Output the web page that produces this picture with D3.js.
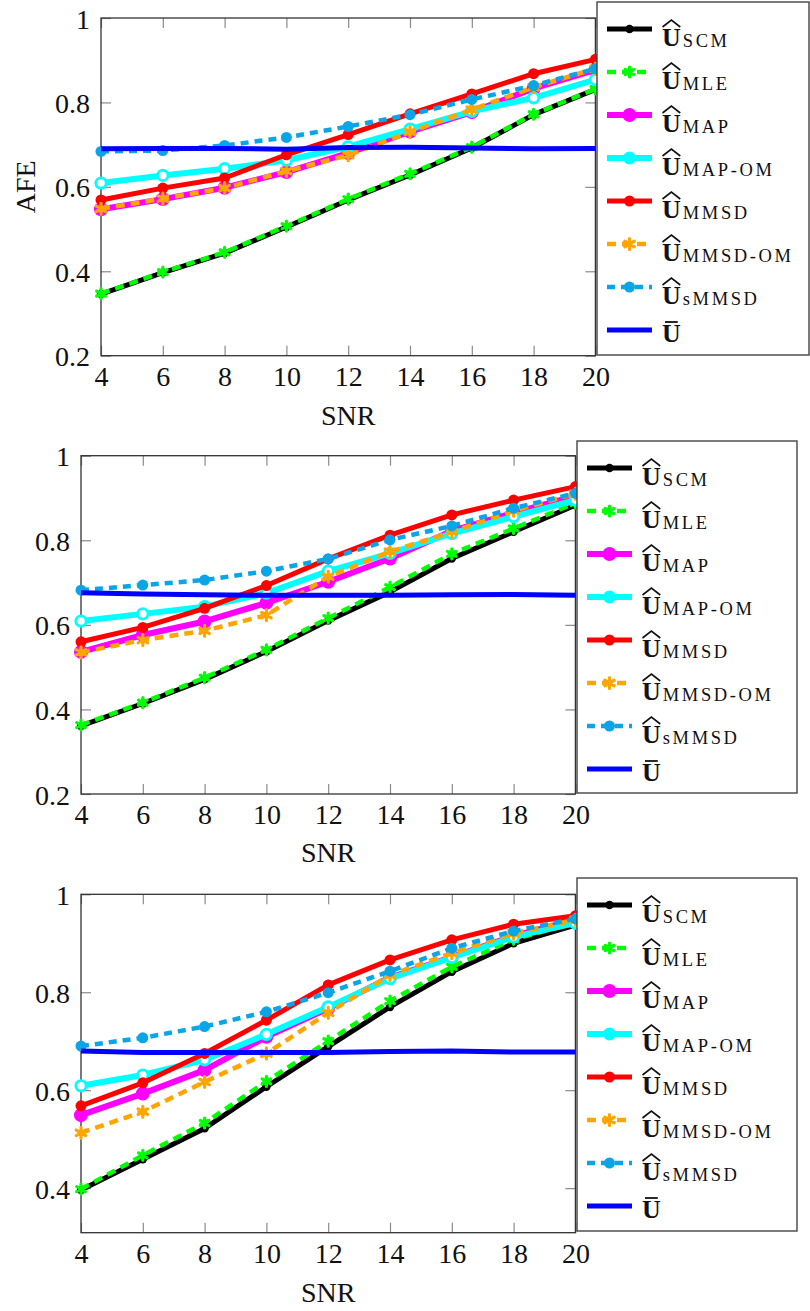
<!DOCTYPE html>
<html>
<head>
<meta charset="utf-8">
<script src="https://cdn.jsdelivr.net/npm/d3@7"></script>
<style>
  body { margin: 0; background: #fff; }
  text { font-family: "Liberation Serif", "Times New Roman", "DejaVu Serif", serif; fill: #111; }
</style>
</head>
<body>
<svg id="chart" width="810" height="1311"></svg>
<script>
// SNR values shared by all three panels
const snr = [4, 6, 8, 10, 12, 14, 16, 18, 20];
const seriesKeys = ['SCM', 'MLE', 'MAP', 'MAP-OM', 'MMSD', 'MMSD-OM', 'sMMSD', 'bar'];

// Panel 1 (top)
const scmA    = [0.346, 0.397, 0.443, 0.505, 0.569, 0.628, 0.692, 0.771, 0.831];
const mleA    = [0.347, 0.398, 0.445, 0.507, 0.571, 0.631, 0.694, 0.772, 0.832];
const mapA    = [0.547, 0.571, 0.598, 0.635, 0.680, 0.731, 0.777, 0.833, 0.877];
const mapOmA  = [0.609, 0.627, 0.643, 0.663, 0.695, 0.737, 0.779, 0.811, 0.854];
const mmsdA   = [0.569, 0.597, 0.621, 0.676, 0.724, 0.773, 0.820, 0.868, 0.902];
const mmsdOmA = [0.548, 0.572, 0.597, 0.637, 0.675, 0.730, 0.783, 0.836, 0.880];
const smmsdA  = [0.684, 0.686, 0.698, 0.717, 0.743, 0.771, 0.807, 0.840, 0.880];
const barA    = [0.690, 0.691, 0.691, 0.689, 0.693, 0.694, 0.692, 0.690, 0.691];

// Panel 2 (middle)
const scmB    = [0.361, 0.414, 0.471, 0.537, 0.610, 0.678, 0.757, 0.820, 0.883];
const mleB    = [0.363, 0.416, 0.475, 0.541, 0.616, 0.689, 0.768, 0.828, 0.888];
const mapB    = [0.536, 0.576, 0.608, 0.652, 0.702, 0.757, 0.822, 0.865, 0.905];
const mapOmB  = [0.609, 0.626, 0.643, 0.675, 0.727, 0.769, 0.816, 0.856, 0.895];
const mmsdB   = [0.560, 0.594, 0.639, 0.693, 0.756, 0.812, 0.860, 0.895, 0.927];
const mmsdOmB = [0.535, 0.564, 0.586, 0.623, 0.714, 0.773, 0.820, 0.870, 0.910];
const smmsdB  = [0.682, 0.694, 0.706, 0.727, 0.756, 0.801, 0.834, 0.876, 0.911];
const barB    = [0.676, 0.673, 0.671, 0.670, 0.670, 0.670, 0.671, 0.672, 0.670];

// Panel 3 (bottom)
const scmC    = [0.396, 0.459, 0.522, 0.607, 0.689, 0.770, 0.842, 0.900, 0.937];
const mleC    = [0.398, 0.467, 0.533, 0.618, 0.700, 0.782, 0.852, 0.908, 0.942];
const mapC    = [0.549, 0.593, 0.641, 0.709, 0.767, 0.830, 0.872, 0.915, 0.948];
const mapOmC  = [0.609, 0.631, 0.662, 0.714, 0.770, 0.828, 0.871, 0.913, 0.941];
const mmsdC   = [0.568, 0.615, 0.675, 0.743, 0.815, 0.866, 0.907, 0.939, 0.956];
const mmsdOmC = [0.513, 0.556, 0.617, 0.675, 0.758, 0.835, 0.880, 0.920, 0.948];
const smmsdC  = [0.690, 0.707, 0.730, 0.760, 0.799, 0.843, 0.890, 0.925, 0.950];
const barC    = [0.680, 0.677, 0.677, 0.677, 0.677, 0.679, 0.680, 0.678, 0.678];

const yTicksFull = [0.2, 0.4, 0.6, 0.8, 1];
const yTicksShort = [0.4, 0.6, 0.8, 1];

const FONT = '"Liberation Serif", "Times New Roman", "DejaVu Serif", serif';

// line / marker styles, same order as seriesKeys
const styles = [
    { color: '#000000', width: 5,   dash: null,  marker: 'dot',  r: 4.2 },
    { color: '#00ff00', width: 4.5, dash: '9,6', marker: 'ast',  r: 5 },
    { color: '#ff00ff', width: 6,   dash: null,  marker: 'dot',  r: 7 },
    { color: '#00ffff', width: 6,   dash: null,  marker: 'ring', r: 6.5 },
    { color: '#ff0000', width: 5,   dash: null,  marker: 'dot',  r: 5.5 },
    { color: '#ffa500', width: 4.5, dash: '9,6', marker: 'ast',  r: 5.5 },
    { color: '#0aa5e6', width: 4.5, dash: '8,6', marker: 'dot',  r: 5.5 },
    { color: '#0000ff', width: 5,   dash: null,  marker: null,   r: 0 }
];

const panels = [
    { left: 101, right: 595.4, top: 18, bottom: 355.7, yMin: 0.2, yTicks: yTicksFull,
      series: [scmA, mleA, mapA, mapOmA, mmsdA, mmsdOmA, smmsdA, barA],
      legend: { x0: 597, x1: 809, y0: 2, y1: 355 }, snrY: 425, afe: true },
    { left: 81, right: 575.4, top: 455.7, bottom: 794, yMin: 0.2, yTicks: yTicksFull,
      series: [scmB, mleB, mapB, mapOmB, mmsdB, mmsdOmB, smmsdB, barB],
      legend: { x0: 577, x1: 797, y0: 441, y1: 793 }, snrY: 861.5, afe: false },
    { left: 81, right: 575.4, top: 894.3, bottom: 1232.7, yMin: 0.309, yTicks: yTicksShort,
      series: [scmC, mleC, mapC, mapOmC, mmsdC, mmsdOmC, smmsdC, barC],
      legend: { x0: 577, x1: 797, y0: 878, y1: 1231 }, snrY: 1301.5, afe: false }
];

const svg = d3.select('#chart');

function drawMarker(g, style, cx, cy) {
    if (!style.marker) return;
    if (style.marker === 'ast') {
        const r = style.r;
        let d = '';
        for (let k = 0; k < 3; k++) {
            const a = Math.PI / 2 + k * Math.PI / 3;
            d += `M${cx - r * Math.cos(a)},${cy - r * Math.sin(a)}L${cx + r * Math.cos(a)},${cy + r * Math.sin(a)}`;
        }
        g.append('path').attr('d', d)
            .attr('stroke', style.color).attr('stroke-width', 3.2)
            .attr('stroke-linecap', 'round').attr('fill', 'none');
        g.append('circle').attr('cx', cx).attr('cy', cy).attr('r', 3)
            .attr('fill', style.color);
    } else if (style.marker === 'ring') {
        g.append('circle').attr('cx', cx).attr('cy', cy).attr('r', style.r - 1.3)
            .attr('fill', '#fff').attr('stroke', style.color).attr('stroke-width', 2.8);
    } else {
        g.append('circle').attr('cx', cx).attr('cy', cy).attr('r', style.r)
            .attr('fill', style.color);
    }
}

function drawLegendLabel(g, key, tx, ly) {
    const isBar = key === 'bar';
    const base = isBar ? ly + 12 : ly + 16.5;
    const u = g.append('text')
        .attr('x', tx).attr('y', base)
        .attr('font-family', FONT)
        .attr('font-size', 26).attr('font-weight', 'bold')
        .text('U');
    const w = u.node().getComputedTextLength();
    if (isBar) {
        g.append('line')
            .attr('x1', tx + 3).attr('x2', tx + w - 3)
            .attr('y1', ly - 8).attr('y2', ly - 8)
            .attr('stroke', '#111').attr('stroke-width', 1.8);
        return;
    }
    g.append('path')
        .attr('d', `M${tx + 0.5},${ly - 2}L${tx + w / 2},${ly - 9}L${tx + w - 0.5},${ly - 2}`)
        .attr('fill', 'none').attr('stroke', '#111').attr('stroke-width', 1.6)
        .attr('stroke-linejoin', 'miter');
    g.append('text')
        .attr('x', tx + w + 2).attr('y', base + 1)
        .attr('font-family', FONT)
        .attr('font-size', 18.5).attr('letter-spacing', 2.6)
        .text(key);
}

panels.forEach(p => {
    const x = d3.scaleLinear().domain([4, 20]).range([p.left, p.right]);
    const y = d3.scaleLinear().domain([p.yMin, 1]).range([p.bottom, p.top]);
    const fmt = d => String(+d.toFixed(1));

    const axes = svg.append('g');
    // bottom axis with inward ticks
    const bottom = axes.append('g')
        .attr('transform', `translate(0,${p.bottom})`)
        .call(d3.axisBottom(x).tickValues(snr).tickSize(-10).tickPadding(10).tickSizeOuter(0));
    const top = axes.append('g')
        .attr('transform', `translate(0,${p.top})`)
        .call(d3.axisTop(x).tickValues(snr).tickSize(-10).tickFormat('').tickSizeOuter(0));
    const left = axes.append('g')
        .attr('transform', `translate(${p.left},0)`)
        .call(d3.axisLeft(y).tickValues(p.yTicks).tickSize(-10).tickPadding(11).tickFormat(fmt).tickSizeOuter(0));
    const right = axes.append('g')
        .attr('transform', `translate(${p.right},0)`)
        .call(d3.axisRight(y).tickValues(p.yTicks).tickSize(-10).tickFormat('').tickSizeOuter(0));

    [bottom, top, left, right].forEach(a => {
        a.attr('font-family', FONT);
        a.select('.domain').remove();
        a.selectAll('.tick line').attr('stroke', '#8a8a8a').attr('stroke-width', 1.2);
        a.selectAll('.tick text')
            .attr('font-family', FONT)
            .attr('font-size', 28).attr('fill', '#111');
    });
    left.selectAll('.tick text').attr('dy', '0.36em');

    axes.append('rect')
        .attr('x', p.left).attr('y', p.top)
        .attr('width', p.right - p.left).attr('height', p.bottom - p.top)
        .attr('fill', 'none').attr('stroke', '#333').attr('stroke-width', 1.3);

    // series
    const line = d3.line().x((d, i) => x(snr[i])).y(d => y(d));
    p.series.forEach((vals, si) => {
        const st = styles[si];
        const g = svg.append('g');
        g.append('path')
            .attr('d', line(vals))
            .attr('fill', 'none')
            .attr('stroke', st.color)
            .attr('stroke-width', st.width)
            .attr('stroke-linejoin', 'round')
            .attr('stroke-dasharray', st.dash);
        vals.forEach((v, i) => drawMarker(g, st, x(snr[i]), y(v)));
    });

    // axis titles
    svg.append('text')
        .attr('x', (p.left + p.right) / 2).attr('y', p.snrY)
        .attr('text-anchor', 'middle').attr('font-size', 28)
        .attr('font-family', FONT)
        .text('SNR');
    if (p.afe) {
        svg.append('text')
            .attr('transform', `translate(35,${(p.top + p.bottom) / 2}) rotate(-90)`)
            .attr('text-anchor', 'middle').attr('font-size', 28)
            .attr('font-family', FONT)
            .text('AFE');
    }

    // legend
    const L = p.legend;
    const lg = svg.append('g');
    lg.append('rect')
        .attr('x', L.x0).attr('y', L.y0)
        .attr('width', L.x1 - L.x0).attr('height', L.y1 - L.y0)
        .attr('fill', '#fff').attr('stroke', '#444').attr('stroke-width', 1.4);
    seriesKeys.forEach((key, i) => {
        const st = styles[i];
        const ly = L.y0 + 27 + i * 43;
        const lx0 = L.x0 + 10, lx1 = L.x0 + 55;
        lg.append('line')
            .attr('x1', lx0).attr('x2', lx1).attr('y1', ly).attr('y2', ly)
            .attr('stroke', st.color).attr('stroke-width', st.width)
            .attr('stroke-dasharray', st.dash);
        const legStyle = st.marker === 'ring' ? { ...st, marker: 'dot' } : st;
        drawMarker(lg, legStyle, (lx0 + lx1) / 2, ly);
        drawLegendLabel(lg, key, L.x0 + 65, ly);
    });
});
</script>
</body>
</html>
